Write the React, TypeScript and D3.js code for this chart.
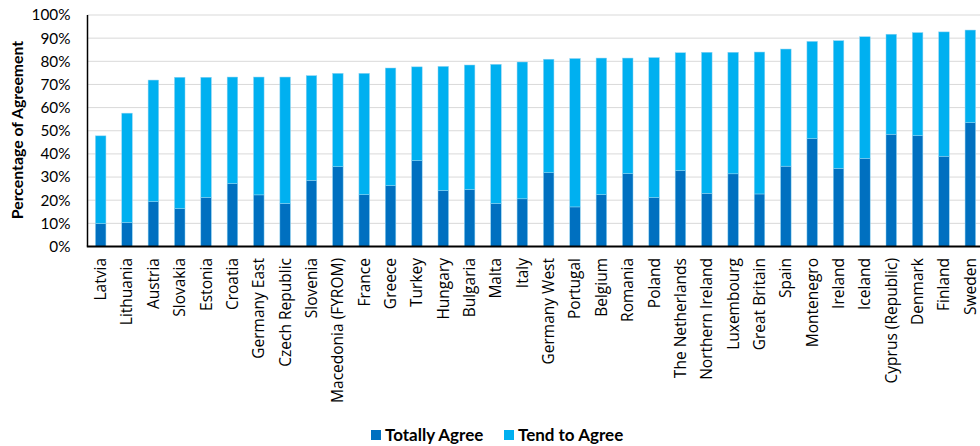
import React from "react";
import * as d3 from "d3";

const countries = [
  "Latvia", "Lithuania", "Austria", "Slovakia", "Estonia", "Croatia", "Germany East",
  "Czech Republic", "Slovenia", "Macedonia (FYROM)", "France", "Greece", "Turkey",
  "Hungary", "Bulgaria", "Malta", "Italy", "Germany West", "Portugal", "Belgium",
  "Romania", "Poland", "The Netherlands", "Northern Ireland", "Luxembourg",
  "Great Britain", "Spain", "Montenegro", "Ireland", "Iceland", "Cyprus (Republic)",
  "Denmark", "Finland", "Sweden",
];

const totallyAgree = [
  9.9, 10.4, 19.4, 16.4, 21.2, 27.2, 22.3, 18.6, 28.6, 34.5, 22.4, 26.3, 37.1,
  24.2, 24.7, 18.6, 20.6, 31.9, 17.1, 22.4, 31.5, 21.2, 32.8, 23.0, 31.4, 22.7,
  34.7, 46.6, 33.8, 38.1, 48.5, 47.9, 39.0, 53.5,
];

const totalAgree = [
  47.8, 57.6, 71.9, 73.1, 73.1, 73.2, 73.2, 73.2, 73.8, 74.8, 74.8, 77.1, 77.6,
  77.8, 78.4, 78.7, 79.7, 80.9, 81.2, 81.4, 81.4, 81.6, 83.7, 83.9, 83.9, 84.0,
  85.3, 88.6, 88.9, 90.6, 91.7, 92.4, 92.7, 93.5,
];

const tendToAgree = totalAgree.map((t, i) => +(t - totallyAgree[i]).toFixed(1));

const yTicks = [0, 10, 20, 30, 40, 50, 60, 70, 80, 90, 100];
const seriesNames = ["Totally Agree", "Tend to Agree"];
const colors = ["#0070C0", "#00B0F0"];

export default function App() {
  const width = 980;
  const height = 446;
  const left = 87.5;
  const top = 15;
  const bottom = 246.5;

  const x = d3.scaleBand<string>().domain(countries).range([left, 983.5]).paddingInner(0.6).paddingOuter(0.3);
  const y = d3.scaleLinear().domain([0, 100]).range([bottom, top]);

  const rows = countries.map((c, i) => ({ c, totally: totallyAgree[i], tend: tendToAgree[i] }));
  const stack = d3.stack<any>().keys(["totally", "tend"])(rows);

  const bw = x.bandwidth();
  const calibri = "Lato, 'Liberation Sans', sans-serif";

  return (
    <svg width={width} height={height} style={{ position: "absolute", left: 0, top: 0, display: "block" }}>
      <rect x={0} y={0} width={width} height={height} fill="#fff" />
      {yTicks.map((t) => (
        <line key={"g" + t} x1={left} x2={width} y1={y(t)} y2={y(t)} stroke="#d9d9d9" strokeWidth={1} />
      ))}
      {yTicks.map((t) => (
        <text key={"t" + t} x={70.5} y={y(t)} dy="0.35em" textAnchor="end" fontFamily={calibri} fontSize={15.3} fill="#000">
          {t + "%"}
        </text>
      ))}
      {stack.map((s, si) =>
        s.map((d, i) => (
          <rect
            key={si + "-" + i}
            x={x(countries[i])!}
            width={bw}
            y={y(d[1])}
            height={y(d[0]) - y(d[1])}
            fill={colors[si]}
            stroke="#8fd3f2"
            strokeWidth={0.5}
          />
        ))
      )}
      <line x1={left} x2={left} y1={top} y2={bottom} stroke="#000" strokeWidth={1.5} />
      <line x1={left - 0.7} x2={width} y1={bottom} y2={bottom} stroke="#000" strokeWidth={2} />
      {countries.map((c) => (
        <text
          key={"x" + c}
          transform={`translate(${x(c)! + bw / 2},${258}) rotate(-90)`}
          textAnchor="end"
          dy="0.35em"
          fontFamily="'Open Sans', sans-serif"
          fontSize={15.5}
          fill="#000"
        >
          {c}
        </text>
      ))}
      <text
        transform={`translate(${17},${130}) rotate(-90)`}
        textAnchor="middle"
        dy="0.35em"
        fontFamily={calibri}
        fontWeight="bold"
        fontSize={15.8}
        fill="#000"
      >
        Percentage of Agreement
      </text>
      {seriesNames.map((n, i) => {
        const lx = [371, 504][i];
        return (
          <g key={n}>
            <rect x={lx} y={430} width={10} height={10} fill={colors[i]} />
            <text x={lx + 14} y={435} dy="0.35em" fontFamily={calibri} fontWeight="bold" fontSize={17} fill="#000">
              {n}
            </text>
          </g>
        );
      })}
    </svg>
  );
}
